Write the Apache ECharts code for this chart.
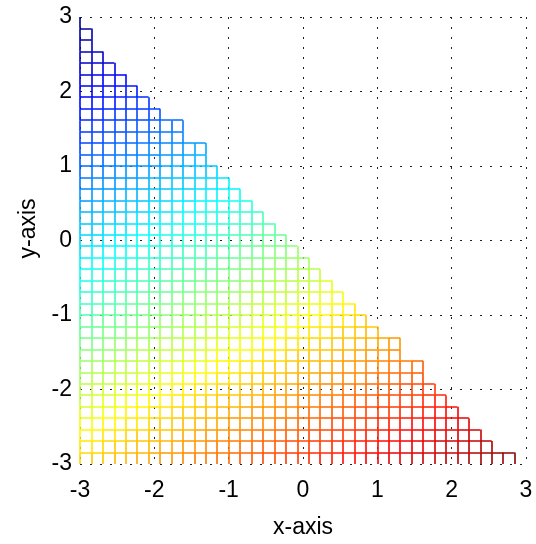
<!DOCTYPE html>
<html>
<head>
<meta charset="utf-8">
<script src="https://cdn.jsdelivr.net/npm/echarts@6/dist/echarts.min.js"></script>
<style>
  html, body { margin: 0; padding: 0; background: #fff; }
  #chart { width: 536px; height: 544px; }
</style>
</head>
<body>
<div id="chart"></div>
<script>
// mesh nodes, 40 on each axis, -3 .. 3
var meshX = [-3, -2.8462, -2.6923, -2.5385, -2.3846, -2.2308, -2.0769, -1.9231, -1.7692, -1.6154,
  -1.4615, -1.3077, -1.1538, -1.0, -0.8462, -0.6923, -0.5385, -0.3846, -0.2308, -0.0769,
  0.0769, 0.2308, 0.3846, 0.5385, 0.6923, 0.8462, 1.0, 1.1538, 1.3077, 1.4615,
  1.6154, 1.7692, 1.9231, 2.0769, 2.2308, 2.3846, 2.5385, 2.6923, 2.8462, 3];
var meshY = meshX.slice();
// last filled column on each row (row 0 = bottom)
var rowLast = [38, 38, 36, 35, 34, 33, 32, 31, 30, 30,
  28, 28, 26, 25, 24, 23, 22, 21, 20, 19,
  18, 17, 16, 15, 14, 13, 12, 11, 11, 9,
  9, 7, 6, 5, 4, 3, 2, 1, 1, 0];
// surface height z = a*x + b*y (the colour runs blue top-left -> red bottom-right)
var heightCoef = [1, -2];
var axisTicks = [-3, -2, -1, 0, 1, 2, 3];

function height(i, j) {
  return heightCoef[0] * meshX[i] + heightCoef[1] * meshY[j];
}

// jet, 64 steps
function jet(t) {
  var k = Math.min(63, Math.max(0, Math.floor(t * 64)));
  var v = (k + 0.5) / 64;
  function c(x) { return Math.round(255 * Math.min(1, Math.max(0, x))); }
  return 'rgb(' + c(1.5 - Math.abs(4 * v - 3)) + ',' + c(1.5 - Math.abs(4 * v - 2)) + ',' + c(1.5 - Math.abs(4 * v - 1)) + ')';
}

var zMin = Infinity, zMax = -Infinity;
rowLast.forEach(function (last, j) {
  for (var i = 0; i <= last; i++) {
    var z = height(i, j);
    if (z < zMin) zMin = z;
    if (z > zMax) zMax = z;
  }
});

function edgeColor(z) {
  return jet((z - zMin) / (zMax - zMin));
}

var edges = [];
rowLast.forEach(function (last, j) {
  // bottom row sits on the frame and is clipped away in the picture
  if (j > 0) {
    for (var i = 0; i < last; i++) {
      edges.push({
        coords: [[meshX[i], meshY[j]], [meshX[i + 1], meshY[j]]],
        lineStyle: { color: edgeColor((height(i, j) + height(i + 1, j)) / 2) }
      });
    }
  }
  if (j < rowLast.length - 1) {
    var top = Math.min(last, rowLast[j + 1]);
    for (var i2 = 0; i2 <= top; i2++) {
      edges.push({
        coords: [[meshX[i2], meshY[j]], [meshX[i2], meshY[j + 1]]],
        lineStyle: { color: edgeColor((height(i2, j) + height(i2, j + 1)) / 2) }
      });
    }
  }
});

var chart = echarts.init(document.getElementById('chart'), null, { renderer: 'canvas' });

var labelFont = { fontSize: 23, color: '#000', fontFamily: 'Liberation Sans, Arial, sans-serif' };
var dotted = { show: true, lineStyle: { color: '#222', width: 1, type: [2, 8] } };

chart.setOption({
  animation: false,
  grid: { left: 80, right: 10, top: 17, bottom: 75 },
  xAxis: {
    type: 'value',
    min: axisTicks[0],
    max: axisTicks[axisTicks.length - 1],
    interval: 1,
    axisLine: { show: false },
    axisTick: { show: false },
    axisLabel: Object.assign({ margin: 15 }, labelFont),
    splitLine: dotted,
    name: 'x-axis',
    nameLocation: 'middle',
    nameGap: 52,
    nameTextStyle: labelFont
  },
  yAxis: {
    type: 'value',
    min: axisTicks[0],
    max: axisTicks[axisTicks.length - 1],
    interval: 1,
    axisLine: { show: false },
    axisTick: { show: false },
    axisLabel: Object.assign({ margin: 8 }, labelFont),
    splitLine: dotted,
    name: 'y-axis',
    nameLocation: 'middle',
    nameGap: 38,
    nameTextStyle: Object.assign({ padding: [0, 0, 0, 24] }, labelFont)
  },
  series: [{
    type: 'lines',
    coordinateSystem: 'cartesian2d',
    polyline: false,
    silent: true,
    large: false,
    progressive: 0,
    lineStyle: { width: 1.6, opacity: 1 },
    data: edges
  }]
});
</script>
</body>
</html>
